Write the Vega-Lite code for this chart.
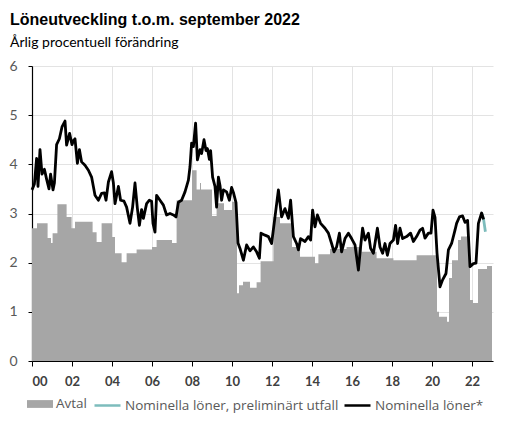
{
  "$schema": "https://vega.github.io/schema/vega-lite/v6.json",
  "autosize": "none",
  "width": 461,
  "height": 295,
  "padding": {"left": 32, "top": 66, "right": 17, "bottom": 74},
  "background": "white",
  "title": {
    "text": "Löneutveckling t.o.m. september 2022",
    "subtitle": "Årlig procentuell förändring",
    "anchor": "start",
    "frame": "group",
    "dx": -22,
    "offset": 9,
    "font": "Liberation Sans",
    "fontSize": 16,
    "fontWeight": "bold",
    "color": "#000000",
    "subtitleFont": "Lato",
    "subtitleFontSize": 14,
    "subtitleColor": "#000000",
    "subtitlePadding": 8
  },
  "config": {
    "view": {"stroke": null},
    "axis": {"gridColor": "#e3e3e3", "gridWidth": 1, "domainColor": "#000000", "tickColor": "#000000"},
    "legend": {"padding": 0, "labelFont": "Open Sans", "labelFontSize": 13.5, "labelColor": "#595959", "labelLimit": 400, "labelOffset": 3, "columnPadding": 0}
  },
  "datasets": {
    "wages": [
      {"series": "Avtal", "year": 2000.0, "value": 2.7},
      {"series": "Avtal", "year": 2000.25, "value": 2.8},
      {"series": "Avtal", "year": 2000.78, "value": 2.5},
      {"series": "Avtal", "year": 2000.95, "value": 2.4},
      {"series": "Avtal", "year": 2001.03, "value": 2.6},
      {"series": "Avtal", "year": 2001.27, "value": 3.19},
      {"series": "Avtal", "year": 2001.73, "value": 2.93},
      {"series": "Avtal", "year": 2001.98, "value": 2.7},
      {"series": "Avtal", "year": 2002.15, "value": 2.83},
      {"series": "Avtal", "year": 2003.03, "value": 2.62},
      {"series": "Avtal", "year": 2003.23, "value": 2.42},
      {"series": "Avtal", "year": 2003.48, "value": 2.8},
      {"series": "Avtal", "year": 2004.0, "value": 2.52},
      {"series": "Avtal", "year": 2004.15, "value": 2.19},
      {"series": "Avtal", "year": 2004.48, "value": 2.01},
      {"series": "Avtal", "year": 2004.73, "value": 2.19},
      {"series": "Avtal", "year": 2005.23, "value": 2.27},
      {"series": "Avtal", "year": 2006.0, "value": 2.32},
      {"series": "Avtal", "year": 2006.23, "value": 2.46},
      {"series": "Avtal", "year": 2007.0, "value": 2.4},
      {"series": "Avtal", "year": 2007.23, "value": 3.27},
      {"series": "Avtal", "year": 2008.0, "value": 3.88},
      {"series": "Avtal", "year": 2008.23, "value": 3.49},
      {"series": "Avtal", "year": 2008.4, "value": 3.62},
      {"series": "Avtal", "year": 2008.45, "value": 3.49},
      {"series": "Avtal", "year": 2009.0, "value": 2.95},
      {"series": "Avtal", "year": 2009.23, "value": 3.21},
      {"series": "Avtal", "year": 2009.6, "value": 3.07},
      {"series": "Avtal", "year": 2010.0, "value": 3.24},
      {"series": "Avtal", "year": 2010.25, "value": 1.38},
      {"series": "Avtal", "year": 2010.35, "value": 1.54},
      {"series": "Avtal", "year": 2010.55, "value": 1.61},
      {"series": "Avtal", "year": 2010.9, "value": 1.49},
      {"series": "Avtal", "year": 2011.23, "value": 1.6},
      {"series": "Avtal", "year": 2011.43, "value": 2.03},
      {"series": "Avtal", "year": 2012.07, "value": 2.93},
      {"series": "Avtal", "year": 2012.4, "value": 2.8},
      {"series": "Avtal", "year": 2013.0, "value": 2.32},
      {"series": "Avtal", "year": 2013.4, "value": 2.12},
      {"series": "Avtal", "year": 2014.15, "value": 1.99},
      {"series": "Avtal", "year": 2014.32, "value": 2.17},
      {"series": "Avtal", "year": 2014.9, "value": 2.28},
      {"series": "Avtal", "year": 2015.73, "value": 2.32},
      {"series": "Avtal", "year": 2016.48, "value": 2.22},
      {"series": "Avtal", "year": 2017.23, "value": 2.09},
      {"series": "Avtal", "year": 2018.07, "value": 2.05},
      {"series": "Avtal", "year": 2019.23, "value": 2.15},
      {"series": "Avtal", "year": 2020.25, "value": 1.0},
      {"series": "Avtal", "year": 2020.35, "value": 0.9},
      {"series": "Avtal", "year": 2020.75, "value": 0.8},
      {"series": "Avtal", "year": 2020.85, "value": 1.69},
      {"series": "Avtal", "year": 2021.0, "value": 2.05},
      {"series": "Avtal", "year": 2021.3, "value": 2.46},
      {"series": "Avtal", "year": 2021.45, "value": 2.53},
      {"series": "Avtal", "year": 2021.9, "value": 1.24},
      {"series": "Avtal", "year": 2022.05, "value": 1.18},
      {"series": "Avtal", "year": 2022.3, "value": 1.87},
      {"series": "Avtal", "year": 2022.75, "value": 1.93},
      {"series": "Avtal", "year": 2023.0, "value": 1.93},

      {"series": "Nominella löner*", "year": 2000.0, "value": 3.48},
      {"series": "Nominella löner*", "year": 2000.12, "value": 3.6},
      {"series": "Nominella löner*", "year": 2000.23, "value": 4.12},
      {"series": "Nominella löner*", "year": 2000.3, "value": 3.55},
      {"series": "Nominella löner*", "year": 2000.4, "value": 4.3},
      {"series": "Nominella löner*", "year": 2000.5, "value": 3.8},
      {"series": "Nominella löner*", "year": 2000.62, "value": 3.9},
      {"series": "Nominella löner*", "year": 2000.73, "value": 3.7},
      {"series": "Nominella löner*", "year": 2000.85, "value": 3.5},
      {"series": "Nominella löner*", "year": 2000.93, "value": 3.8},
      {"series": "Nominella löner*", "year": 2001.05, "value": 3.48},
      {"series": "Nominella löner*", "year": 2001.12, "value": 3.62},
      {"series": "Nominella löner*", "year": 2001.23, "value": 4.4},
      {"series": "Nominella löner*", "year": 2001.37, "value": 4.52},
      {"series": "Nominella löner*", "year": 2001.5, "value": 4.76},
      {"series": "Nominella löner*", "year": 2001.65, "value": 4.88},
      {"series": "Nominella löner*", "year": 2001.73, "value": 4.39},
      {"series": "Nominella löner*", "year": 2001.88, "value": 4.63},
      {"series": "Nominella löner*", "year": 2002.0, "value": 4.4},
      {"series": "Nominella löner*", "year": 2002.07, "value": 4.48},
      {"series": "Nominella löner*", "year": 2002.15, "value": 4.52},
      {"series": "Nominella löner*", "year": 2002.27, "value": 4.02},
      {"series": "Nominella löner*", "year": 2002.37, "value": 4.3},
      {"series": "Nominella löner*", "year": 2002.48, "value": 4.05},
      {"series": "Nominella löner*", "year": 2002.65, "value": 3.98},
      {"series": "Nominella löner*", "year": 2002.82, "value": 3.88},
      {"series": "Nominella löner*", "year": 2002.98, "value": 3.74},
      {"series": "Nominella löner*", "year": 2003.15, "value": 3.37},
      {"series": "Nominella löner*", "year": 2003.32, "value": 3.27},
      {"series": "Nominella löner*", "year": 2003.48, "value": 3.41},
      {"series": "Nominella löner*", "year": 2003.62, "value": 3.42},
      {"series": "Nominella löner*", "year": 2003.7, "value": 3.27},
      {"series": "Nominella löner*", "year": 2003.82, "value": 3.64},
      {"series": "Nominella löner*", "year": 2003.98, "value": 3.85},
      {"series": "Nominella löner*", "year": 2004.07, "value": 3.62},
      {"series": "Nominella löner*", "year": 2004.15, "value": 3.2},
      {"series": "Nominella löner*", "year": 2004.32, "value": 3.55},
      {"series": "Nominella löner*", "year": 2004.43, "value": 3.27},
      {"series": "Nominella löner*", "year": 2004.6, "value": 3.25},
      {"series": "Nominella löner*", "year": 2004.73, "value": 3.13},
      {"series": "Nominella löner*", "year": 2004.9, "value": 2.8},
      {"series": "Nominella löner*", "year": 2005.03, "value": 3.13},
      {"series": "Nominella löner*", "year": 2005.15, "value": 3.62},
      {"series": "Nominella löner*", "year": 2005.27, "value": 3.1},
      {"series": "Nominella löner*", "year": 2005.37, "value": 2.76},
      {"series": "Nominella löner*", "year": 2005.48, "value": 3.08},
      {"series": "Nominella löner*", "year": 2005.57, "value": 2.9},
      {"series": "Nominella löner*", "year": 2005.73, "value": 3.2},
      {"series": "Nominella löner*", "year": 2005.87, "value": 3.27},
      {"series": "Nominella löner*", "year": 2005.98, "value": 3.25},
      {"series": "Nominella löner*", "year": 2006.05, "value": 2.8},
      {"series": "Nominella löner*", "year": 2006.15, "value": 2.62},
      {"series": "Nominella löner*", "year": 2006.23, "value": 3.37},
      {"series": "Nominella löner*", "year": 2006.4, "value": 3.27},
      {"series": "Nominella löner*", "year": 2006.57, "value": 3.17},
      {"series": "Nominella löner*", "year": 2006.73, "value": 2.97},
      {"series": "Nominella löner*", "year": 2006.9, "value": 3.0},
      {"series": "Nominella löner*", "year": 2007.07, "value": 2.97},
      {"series": "Nominella löner*", "year": 2007.2, "value": 2.93},
      {"series": "Nominella löner*", "year": 2007.32, "value": 3.23},
      {"series": "Nominella löner*", "year": 2007.48, "value": 3.27},
      {"series": "Nominella löner*", "year": 2007.65, "value": 3.44},
      {"series": "Nominella löner*", "year": 2007.82, "value": 3.68},
      {"series": "Nominella löner*", "year": 2007.9, "value": 3.95},
      {"series": "Nominella löner*", "year": 2007.98, "value": 4.43},
      {"series": "Nominella löner*", "year": 2008.07, "value": 4.36},
      {"series": "Nominella löner*", "year": 2008.18, "value": 4.84},
      {"series": "Nominella löner*", "year": 2008.27, "value": 4.09},
      {"series": "Nominella löner*", "year": 2008.4, "value": 4.3},
      {"series": "Nominella löner*", "year": 2008.48, "value": 4.22},
      {"series": "Nominella löner*", "year": 2008.6, "value": 4.5},
      {"series": "Nominella löner*", "year": 2008.7, "value": 4.28},
      {"series": "Nominella löner*", "year": 2008.77, "value": 4.32},
      {"series": "Nominella löner*", "year": 2008.87, "value": 4.1},
      {"series": "Nominella löner*", "year": 2008.93, "value": 4.28},
      {"series": "Nominella löner*", "year": 2009.03, "value": 3.74},
      {"series": "Nominella löner*", "year": 2009.15, "value": 3.55},
      {"series": "Nominella löner*", "year": 2009.23, "value": 3.13},
      {"series": "Nominella löner*", "year": 2009.32, "value": 3.74},
      {"series": "Nominella löner*", "year": 2009.4, "value": 3.57},
      {"series": "Nominella löner*", "year": 2009.48, "value": 3.27},
      {"series": "Nominella löner*", "year": 2009.57, "value": 3.48},
      {"series": "Nominella löner*", "year": 2009.73, "value": 3.44},
      {"series": "Nominella löner*", "year": 2009.87, "value": 3.27},
      {"series": "Nominella löner*", "year": 2009.98, "value": 3.53},
      {"series": "Nominella löner*", "year": 2010.07, "value": 3.43},
      {"series": "Nominella löner*", "year": 2010.2, "value": 3.22},
      {"series": "Nominella löner*", "year": 2010.3, "value": 2.4},
      {"series": "Nominella löner*", "year": 2010.4, "value": 2.29},
      {"series": "Nominella löner*", "year": 2010.57, "value": 2.05},
      {"series": "Nominella löner*", "year": 2010.73, "value": 2.36},
      {"series": "Nominella löner*", "year": 2010.9, "value": 2.24},
      {"series": "Nominella löner*", "year": 2011.07, "value": 2.32},
      {"series": "Nominella löner*", "year": 2011.23, "value": 2.22},
      {"series": "Nominella löner*", "year": 2011.37, "value": 2.09},
      {"series": "Nominella löner*", "year": 2011.45, "value": 2.6},
      {"series": "Nominella löner*", "year": 2011.65, "value": 2.56},
      {"series": "Nominella löner*", "year": 2011.82, "value": 2.53},
      {"series": "Nominella löner*", "year": 2011.98, "value": 2.39},
      {"series": "Nominella löner*", "year": 2012.15, "value": 2.93},
      {"series": "Nominella löner*", "year": 2012.32, "value": 3.48},
      {"series": "Nominella löner*", "year": 2012.48, "value": 2.93},
      {"series": "Nominella löner*", "year": 2012.65, "value": 3.1},
      {"series": "Nominella löner*", "year": 2012.82, "value": 2.9},
      {"series": "Nominella löner*", "year": 2012.93, "value": 3.27},
      {"series": "Nominella löner*", "year": 2013.07, "value": 2.53},
      {"series": "Nominella löner*", "year": 2013.23, "value": 2.39},
      {"series": "Nominella löner*", "year": 2013.32, "value": 2.26},
      {"series": "Nominella löner*", "year": 2013.43, "value": 2.49},
      {"series": "Nominella löner*", "year": 2013.65, "value": 2.43},
      {"series": "Nominella löner*", "year": 2013.82, "value": 2.53},
      {"series": "Nominella löner*", "year": 2013.93, "value": 2.46},
      {"series": "Nominella löner*", "year": 2014.03, "value": 3.07},
      {"series": "Nominella löner*", "year": 2014.15, "value": 2.73},
      {"series": "Nominella löner*", "year": 2014.27, "value": 2.97},
      {"series": "Nominella löner*", "year": 2014.43, "value": 2.8},
      {"series": "Nominella löner*", "year": 2014.65, "value": 2.7},
      {"series": "Nominella löner*", "year": 2014.82, "value": 2.6},
      {"series": "Nominella löner*", "year": 2014.98, "value": 2.39},
      {"series": "Nominella löner*", "year": 2015.1, "value": 2.22},
      {"series": "Nominella löner*", "year": 2015.23, "value": 2.32},
      {"series": "Nominella löner*", "year": 2015.37, "value": 2.6},
      {"series": "Nominella löner*", "year": 2015.48, "value": 2.22},
      {"series": "Nominella löner*", "year": 2015.65, "value": 2.49},
      {"series": "Nominella löner*", "year": 2015.82, "value": 2.6},
      {"series": "Nominella löner*", "year": 2015.98, "value": 2.49},
      {"series": "Nominella löner*", "year": 2016.15, "value": 2.36},
      {"series": "Nominella löner*", "year": 2016.32, "value": 1.85},
      {"series": "Nominella löner*", "year": 2016.43, "value": 2.32},
      {"series": "Nominella löner*", "year": 2016.53, "value": 2.7},
      {"series": "Nominella löner*", "year": 2016.65, "value": 2.46},
      {"series": "Nominella löner*", "year": 2016.82, "value": 2.6},
      {"series": "Nominella löner*", "year": 2016.93, "value": 2.29},
      {"series": "Nominella löner*", "year": 2017.07, "value": 2.19},
      {"series": "Nominella löner*", "year": 2017.27, "value": 2.7},
      {"series": "Nominella löner*", "year": 2017.4, "value": 2.32},
      {"series": "Nominella löner*", "year": 2017.53, "value": 2.19},
      {"series": "Nominella löner*", "year": 2017.65, "value": 2.39},
      {"series": "Nominella löner*", "year": 2017.77, "value": 2.15},
      {"series": "Nominella löner*", "year": 2017.9, "value": 2.39},
      {"series": "Nominella löner*", "year": 2018.07, "value": 2.46},
      {"series": "Nominella löner*", "year": 2018.18, "value": 2.76},
      {"series": "Nominella löner*", "year": 2018.28, "value": 2.39},
      {"series": "Nominella löner*", "year": 2018.4, "value": 2.7},
      {"series": "Nominella löner*", "year": 2018.53, "value": 2.49},
      {"series": "Nominella löner*", "year": 2018.73, "value": 2.53},
      {"series": "Nominella löner*", "year": 2018.93, "value": 2.6},
      {"series": "Nominella löner*", "year": 2019.07, "value": 2.43},
      {"series": "Nominella löner*", "year": 2019.23, "value": 2.53},
      {"series": "Nominella löner*", "year": 2019.4, "value": 2.66},
      {"series": "Nominella löner*", "year": 2019.53, "value": 2.7},
      {"series": "Nominella löner*", "year": 2019.65, "value": 2.5},
      {"series": "Nominella löner*", "year": 2019.82, "value": 2.6},
      {"series": "Nominella löner*", "year": 2019.95, "value": 2.6},
      {"series": "Nominella löner*", "year": 2020.05, "value": 3.07},
      {"series": "Nominella löner*", "year": 2020.15, "value": 2.92},
      {"series": "Nominella löner*", "year": 2020.25, "value": 2.2},
      {"series": "Nominella löner*", "year": 2020.4, "value": 1.51},
      {"series": "Nominella löner*", "year": 2020.53, "value": 1.65},
      {"series": "Nominella löner*", "year": 2020.7, "value": 1.78},
      {"series": "Nominella löner*", "year": 2020.82, "value": 2.26},
      {"series": "Nominella löner*", "year": 2020.98, "value": 2.39},
      {"series": "Nominella löner*", "year": 2021.15, "value": 2.66},
      {"series": "Nominella löner*", "year": 2021.23, "value": 2.8},
      {"series": "Nominella löner*", "year": 2021.37, "value": 2.93},
      {"series": "Nominella löner*", "year": 2021.53, "value": 2.95},
      {"series": "Nominella löner*", "year": 2021.65, "value": 2.82},
      {"series": "Nominella löner*", "year": 2021.78, "value": 2.86},
      {"series": "Nominella löner*", "year": 2021.9, "value": 1.92},
      {"series": "Nominella löner*", "year": 2022.07, "value": 1.98},
      {"series": "Nominella löner*", "year": 2022.2, "value": 1.99},
      {"series": "Nominella löner*", "year": 2022.32, "value": 2.8},
      {"series": "Nominella löner*", "year": 2022.48, "value": 3.01},
      {"series": "Nominella löner*", "year": 2022.58, "value": 2.88},

      {"series": "Nominella löner, preliminärt utfall", "year": 2022.48, "value": 3.01},
      {"series": "Nominella löner, preliminärt utfall", "year": 2022.58, "value": 2.88},
      {"series": "Nominella löner, preliminärt utfall", "year": 2022.67, "value": 2.63}
    ]
  },
  "data": {"name": "wages"},
  "encoding": {
    "x": {
      "field": "year",
      "type": "quantitative",
      "scale": {"domain": [2000, 2023.05], "nice": false, "zero": false},
      "axis": {
        "title": null,
        "values": [2000, 2002, 2004, 2006, 2008, 2010, 2012, 2014, 2016, 2018, 2020, 2022],
        "labelExpr": "substring(toString(datum.value), 2, 4)",
        "labelFont": "Lato",
        "labelFontSize": 13,
        "labelFontWeight": "bold",
        "labelColor": "#404040",
        "labelPadding": 9,
        "tickSize": 5,
        "grid": true,
        "domainWidth": 1.2
      }
    },
    "y": {
      "field": "value",
      "type": "quantitative",
      "scale": {"domain": [0, 6], "nice": false},
      "axis": {
        "title": null,
        "values": [0, 1, 2, 3, 4, 5, 6],
        "labelFont": "Lato",
        "labelFontSize": 14,
        "labelColor": "#595959",
        "labelPadding": 11,
        "tickSize": 4,
        "grid": true,
        "domainWidth": 1.2
      }
    }
  },
  "layer": [
    {
      "transform": [{"filter": "datum.series === 'Avtal'"}],
      "mark": {"type": "area", "interpolate": "step-after", "opacity": 1},
      "encoding": {
        "fill": {
          "field": "series",
          "type": "nominal",
          "scale": {"domain": ["Avtal"], "range": ["#a6a6a6"]},
          "legend": {
            "title": null,
            "orient": "none",
            "legendX": -5,
            "legendY": 325,
            "symbolType": "M-1,-0.3H1V0.3H-1Z",
            "symbolSize": 676,
            "symbolStrokeWidth": 0,
            "symbolOpacity": 1
          }
        }
      }
    },
    {
      "transform": [{"filter": "datum.series === 'Nominella löner, preliminärt utfall'"}],
      "mark": {"type": "line", "strokeWidth": 2.8, "strokeJoin": "round"},
      "encoding": {
        "stroke": {
          "field": "series",
          "type": "nominal",
          "scale": {
            "domain": ["Nominella löner, preliminärt utfall", "Nominella löner*"],
            "range": ["#7dbcbc", "#000000"]
          },
          "legend": {
            "title": null,
            "orient": "none",
            "direction": "horizontal",
            "legendX": 61,
            "legendY": 325,
            "symbolType": "stroke",
            "symbolSize": 676,
            "symbolStrokeWidth": 2.5
          }
        }
      }
    },
    {
      "transform": [{"filter": "datum.series === 'Nominella löner*'"}],
      "mark": {"type": "line", "strokeWidth": 2.8, "strokeJoin": "round"},
      "encoding": {
        "stroke": {"field": "series", "type": "nominal"}
      }
    }
  ]
}
